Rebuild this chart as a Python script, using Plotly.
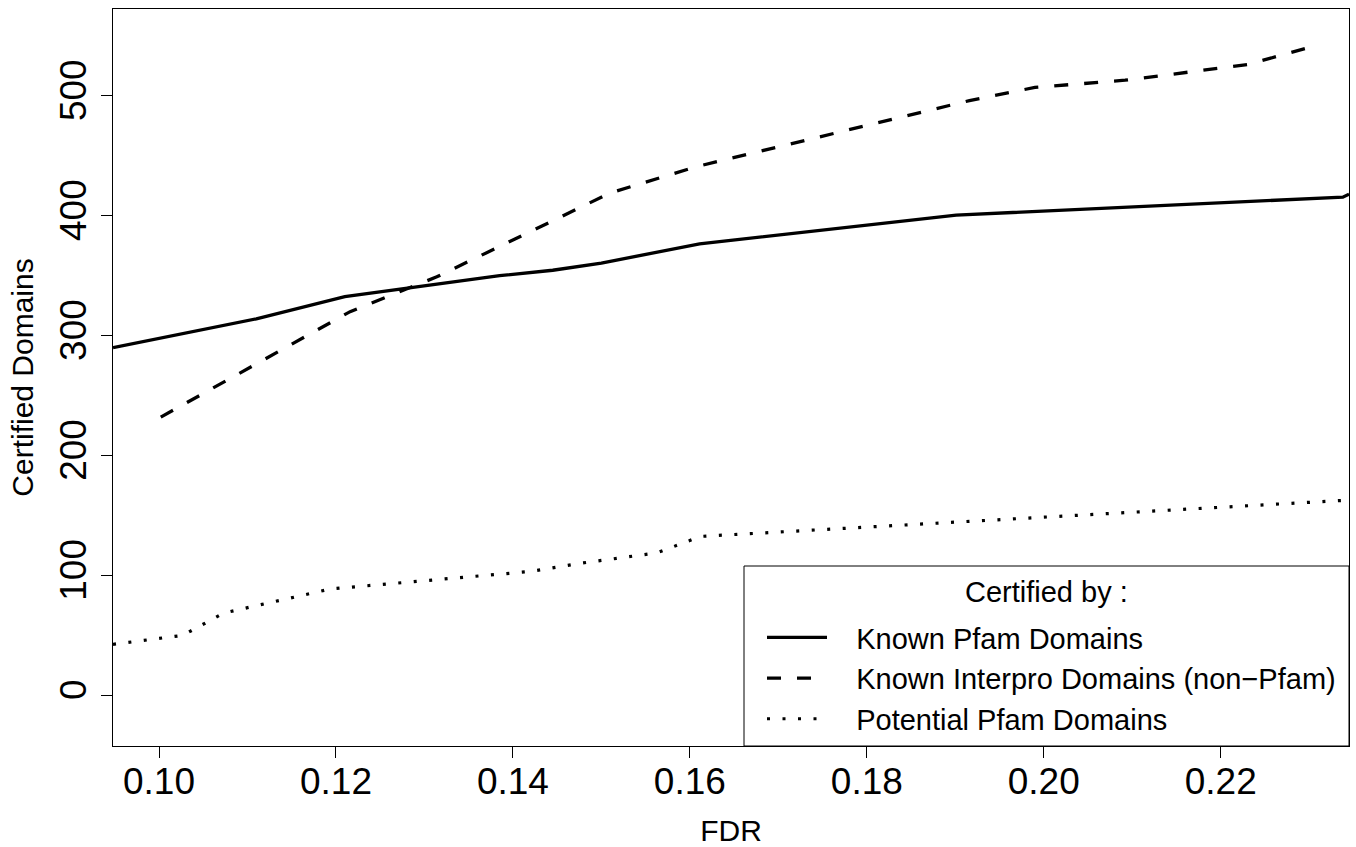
import plotly.graph_objects as go

# Known Pfam Domains (solid)
pfam_fdr = [0.0948, 0.1110, 0.1210, 0.1385, 0.1445, 0.1500, 0.1611, 0.1901, 0.2338, 0.2345]
pfam_val = [290, 314, 332.5, 350, 354.5, 360.5, 376.5, 400.5, 415.5, 418]

# Known Interpro Domains (non-Pfam) (dashed)
ipr_fdr = [0.1002, 0.1216, 0.1314, 0.1510, 0.1608, 0.1916, 0.1990, 0.2092, 0.2230, 0.2306]
ipr_val = [232, 320, 349, 419, 441, 496, 507, 513, 526, 541.5]

# Potential Pfam Domains (dotted)
pot_fdr = [0.0948, 0.1027, 0.1073, 0.1194, 0.1420, 0.1475, 0.1563, 0.1612, 0.2345]
pot_val = [42.5, 50, 68.6, 88.7, 103.3, 110, 118.8, 132.5, 162.8]

x_ticks = [0.10, 0.12, 0.14, 0.16, 0.18, 0.20, 0.22]
x_tick_text = ["0.10", "0.12", "0.14", "0.16", "0.18", "0.20", "0.22"]
y_ticks = [0, 100, 200, 300, 400, 500]
y_tick_text = ["0", "100", "200", "300", "400", "500"]

series_names = ["Known Pfam Domains", "Known Interpro Domains (non\u2212Pfam)", "Potential Pfam Domains"]
legend_title = "Certified by :"

FONT = "Liberation Sans, Arial, Helvetica, sans-serif"
NB = "\u00a0\u00a0\u00a0"

# plot area in pixels: x 113..1349, y 9..746
PL, PR, PT, PB = 113, 1349, 9, 746
def px(x):
    return (x - PL) / (PR - PL)
def py(y):
    return (PB - y) / (PB - PT)

fig = go.Figure()
fig.add_trace(go.Scatter(x=pfam_fdr, y=pfam_val, mode="lines", name=NB + series_names[0],
                         line=dict(color="black", width=3.3)))
fig.add_trace(go.Scatter(x=ipr_fdr, y=ipr_val, mode="lines", name=NB + series_names[1],
                         line=dict(color="black", width=3.3, dash="14px,16px")))
fig.add_trace(go.Scatter(x=pot_fdr, y=pot_val, mode="lines", name=NB + series_names[2],
                         line=dict(color="black", width=3.2, dash="3px,12.5px")))

# legend frame
fig.add_shape(type="rect", xref="paper", yref="paper",
              x0=px(744), x1=1.0, y0=0, y1=py(566),
              line=dict(color="black", width=1), fillcolor="white", layer="above")
fig.add_annotation(text=legend_title, xref="paper", yref="paper",
                   x=px(1046), y=py(592), xanchor="center", yanchor="middle",
                   showarrow=False, font=dict(size=29, family=FONT, color="black"))

fig.update_layout(
    width=1356, height=847,
    margin=dict(l=PL, r=1356 - PR, t=PT, b=847 - PB, autoexpand=False),
    paper_bgcolor="white", plot_bgcolor="white",
    font=dict(family=FONT, color="black"),
    showlegend=True,
    legend=dict(
        x=px(762), y=py(612), xanchor="left", yanchor="top",
        bgcolor="rgba(0,0,0,0)", borderwidth=0,
        font=dict(size=29, family=FONT),
        itemwidth=60, tracegroupgap=0,
    ),
    xaxis=dict(
        range=[0.0948, 0.2345], tickvals=x_ticks, ticktext=x_tick_text, automargin=False,
        showline=True, linecolor="black", linewidth=1, mirror=True,
        ticks="outside", ticklen=11, tickcolor="black", tickwidth=1, ticklabelstandoff=-8,
        tickfont=dict(size=37, family=FONT), showgrid=False, zeroline=False,
        title=dict(text="FDR", font=dict(size=30, family=FONT), standoff=20),
    ),
    yaxis=dict(
        range=[-42.3, 572.4], tickvals=y_ticks, ticktext=y_tick_text, tickangle=-90, automargin=False,
        showline=True, linecolor="black", linewidth=1, mirror=True,
        ticks="outside", ticklen=11, tickcolor="black", tickwidth=1,
        tickfont=dict(size=37, family=FONT), showgrid=False, zeroline=False,
        title=dict(text="Certified Domains", font=dict(size=30, family=FONT), standoff=10),
    ),
)

fig.write_html("out.html")
